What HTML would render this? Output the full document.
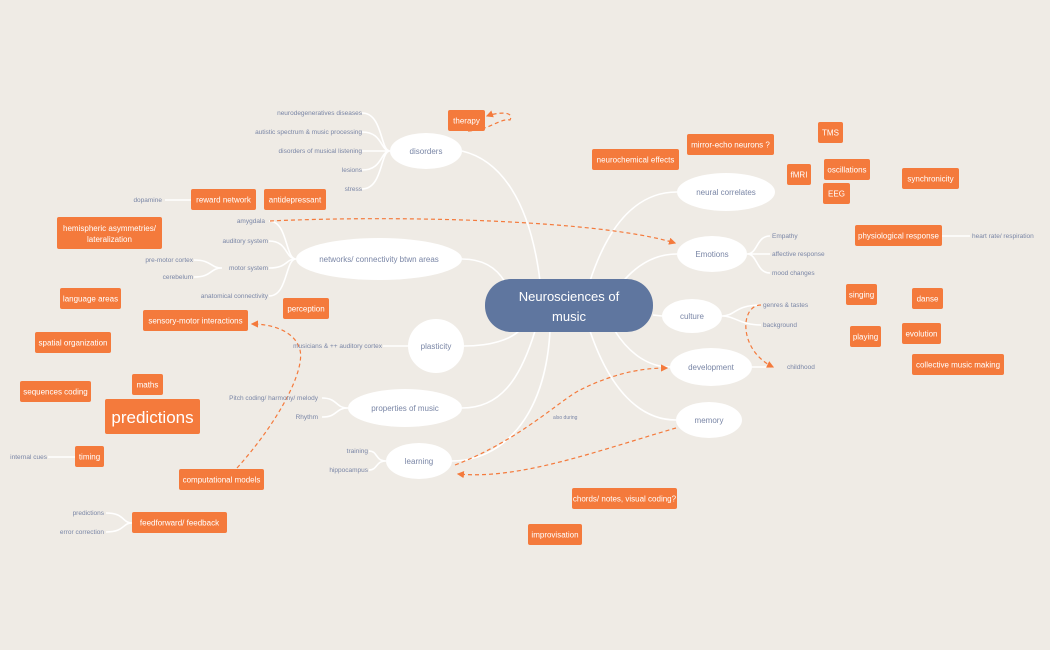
<!DOCTYPE html>
<html><head><meta charset="utf-8"><style>
body{margin:0;background:#efebe5;}
svg{display:block;font-family:"Liberation Sans",sans-serif;}
.o{fill:#f47a3c;}
.ot{fill:#fff;font-size:8px;text-anchor:middle;}
.l{fill:#7a86a6;font-size:6.5px;}
.e{fill:#fff;}
.et{fill:#7a86a6;font-size:8px;text-anchor:middle;}
.w{stroke:#fff;stroke-width:1.6;fill:none;}
.d{stroke:#f47a3c;stroke-width:1.2;stroke-dasharray:4 3;fill:none;}
</style></head><body>
<svg width="1050" height="650" viewBox="0 0 1050 650">
<defs><marker id="a" markerWidth="6" markerHeight="6" refX="5" refY="3" orient="auto"><path d="M0,0 L6,3 L0,6z" fill="#f47a3c"/></marker></defs>
<!-- main branches -->
<g class="w">
<path d="M540,281 C530,200 500,160 462,151"/>
<path d="M505,282 C495,265 480,259 462,259"/>
<path d="M520,330 C510,340 490,346 464,346"/>
<path d="M535,331 C520,380 500,408 462,408"/>
<path d="M550,331 C545,420 500,461 452,461"/>
<path d="M590,281 C610,220 640,192 677,192"/>
<path d="M620,285 C640,260 660,254 677,254"/>
<path d="M653,315 L662,316"/>
<path d="M615,331 C630,355 650,367 670,367"/>
<path d="M590,331 C610,390 640,420 676,420"/>
<!-- sub branches -->
<path d="M390,151 C380,151 383,113 362,113 M390,151 C380,151 383,132 362,132 M390,151 L362,151 M390,151 C380,151 383,170 362,170 M390,151 C380,151 383,189 362,189"/>
<path d="M191,200 L165,200"/>
<path d="M296,259 C285,259 288,221 269,221 M296,259 C285,259 288,241 269,241 M296,259 C285,259 288,268 269,268 M296,259 C285,259 288,296 269,296"/>
<path d="M222,268 C210,268 212,260 194,260 M222,268 C210,268 212,277 194,277"/>
<path d="M408,346 L383,346"/>
<path d="M348,408 C335,408 338,398 322,398 M348,408 C335,408 338,417 322,417"/>
<path d="M386,461 C375,461 378,451 369,451 M386,461 C375,461 378,470 369,470"/>
<path d="M75,457 L48,457"/>
<path d="M132,523 C122,523 125,513 106,513 M132,523 C122,523 125,532 106,532"/>
<path d="M747,254 C758,254 756,236 770,236 M747,254 L770,254 M747,254 C758,254 756,273 770,273"/>
<path d="M722,316 C735,316 735,305 761,305 M722,316 C735,316 740,325 761,325"/>
<path d="M752,367 L770,367"/>
<path d="M942,236 L970,236"/>
</g>
<!-- dashed -->
<path class="d" d="M468,131 C490,130 500,118 510,120 C515,110 495,113 487,116" marker-end="url(#a)"/>
<path class="d" d="M270,221 C400,215 600,220 675,243" marker-end="url(#a)"/>
<path class="d" d="M237,468 C280,420 305,370 300,350 C295,330 270,324 252,324" marker-end="url(#a)"/>
<path class="d" d="M676,428 C600,450 520,480 458,474" marker-end="url(#a)"/>
<path class="d" d="M455,465 C520,440 560,400 580,390 C620,370 650,368 667,368" marker-end="url(#a)"/>
<path class="d" d="M761,305 C740,305 738,350 773,367" marker-end="url(#a)"/>
<!-- center -->
<rect x="485" y="279" width="168" height="53" rx="26" fill="#5f769f"/>
<text x="569" y="301" fill="#fff" font-size="13" text-anchor="middle">Neurosciences of</text>
<text x="569" y="321" fill="#fff" font-size="13" text-anchor="middle">music</text>
<!-- ellipses -->
<g>
<ellipse class="e" cx="426" cy="151" rx="36" ry="18"/><text class="et" x="426" y="154">disorders</text>
<ellipse class="e" cx="379" cy="259" rx="83" ry="21"/><text class="et" x="379" y="262">networks/ connectivity btwn areas</text>
<ellipse class="e" cx="436" cy="346" rx="28" ry="27"/><text class="et" x="436" y="349">plasticity</text>
<ellipse class="e" cx="405" cy="408" rx="57" ry="19"/><text class="et" x="405" y="411">properties of music</text>
<ellipse class="e" cx="419" cy="461" rx="33" ry="18"/><text class="et" x="419" y="464">learning</text>
<ellipse class="e" cx="726" cy="192" rx="49" ry="19"/><text class="et" x="726" y="195">neural correlates</text>
<ellipse class="e" cx="712" cy="254" rx="35" ry="18"/><text class="et" x="712" y="257">Emotions</text>
<ellipse class="e" cx="692" cy="316" rx="30" ry="17"/><text class="et" x="692" y="319">culture</text>
<ellipse class="e" cx="711" cy="367" rx="41" ry="19"/><text class="et" x="711" y="370">development</text>
<ellipse class="e" cx="709" cy="420" rx="33" ry="18"/><text class="et" x="709" y="423">memory</text>
</g>
<!-- orange boxes -->
<g>
<rect class="o" x="448" y="110" width="37" height="21" rx="2"/><text class="ot" x="466.5" y="123.5">therapy</text>
<rect class="o" x="687" y="134" width="87" height="21" rx="2"/><text class="ot" x="730.5" y="147.5">mirror-echo neurons ?</text>
<rect class="o" x="592" y="149" width="87" height="21" rx="2"/><text class="ot" x="635.5" y="162.5">neurochemical effects</text>
<rect class="o" x="818" y="122" width="25" height="21" rx="2"/><text class="ot" x="830.5" y="135.5">TMS</text>
<rect class="o" x="787" y="164" width="24" height="21" rx="2"/><text class="ot" x="799" y="177.5">fMRI</text>
<rect class="o" x="824" y="159" width="46" height="21" rx="2"/><text class="ot" x="847" y="172.5">oscillations</text>
<rect class="o" x="823" y="183" width="27" height="21" rx="2"/><text class="ot" x="836.5" y="196.5">EEG</text>
<rect class="o" x="902" y="168" width="57" height="21" rx="2"/><text class="ot" x="930.5" y="181.5">synchronicity</text>
<rect class="o" x="855" y="225" width="87" height="21" rx="2"/><text class="ot" x="898.5" y="238.5">physiological response</text>
<rect class="o" x="191" y="189" width="65" height="21" rx="2"/><text class="ot" x="223.5" y="202.5">reward network</text>
<rect class="o" x="264" y="189" width="62" height="21" rx="2"/><text class="ot" x="295" y="202.5">antidepressant</text>
<rect class="o" x="57" y="217" width="105" height="32" rx="2"/><text class="ot" x="109.5" y="231">hemispheric asymmetries/</text><text class="ot" x="109.5" y="242">lateralization</text>
<rect class="o" x="60" y="288" width="61" height="21" rx="2"/><text class="ot" x="90.5" y="301.5">language areas</text>
<rect class="o" x="283" y="298" width="46" height="21" rx="2"/><text class="ot" x="306" y="311.5">perception</text>
<rect class="o" x="143" y="310" width="105" height="21" rx="2"/><text class="ot" x="195.5" y="323.5">sensory-motor interactions</text>
<rect class="o" x="35" y="332" width="76" height="21" rx="2"/><text class="ot" x="73" y="345.5">spatial organization</text>
<rect class="o" x="20" y="381" width="71" height="21" rx="2"/><text class="ot" x="55.5" y="394.5">sequences coding</text>
<rect class="o" x="132" y="374" width="31" height="21" rx="2"/><text class="ot" x="147.5" y="387.5">maths</text>
<rect class="o" x="105" y="399" width="95" height="35" rx="2"/><text class="ot" x="152.5" y="423" style="font-size:17px">predictions</text>
<rect class="o" x="75" y="446" width="29" height="21" rx="2"/><text class="ot" x="89.5" y="459.5">timing</text>
<rect class="o" x="179" y="469" width="85" height="21" rx="2"/><text class="ot" x="221.5" y="482.5">computational models</text>
<rect class="o" x="132" y="512" width="95" height="21" rx="2"/><text class="ot" x="179.5" y="525.5">feedforward/ feedback</text>
<rect class="o" x="846" y="284" width="31" height="21" rx="2"/><text class="ot" x="861.5" y="297.5">singing</text>
<rect class="o" x="912" y="288" width="31" height="21" rx="2"/><text class="ot" x="927.5" y="301.5">danse</text>
<rect class="o" x="850" y="326" width="31" height="21" rx="2"/><text class="ot" x="865.5" y="339.5">playing</text>
<rect class="o" x="902" y="323" width="39" height="21" rx="2"/><text class="ot" x="921.5" y="336.5">evolution</text>
<rect class="o" x="912" y="354" width="92" height="21" rx="2"/><text class="ot" x="958" y="367.5">collective music making</text>
<rect class="o" x="572" y="488" width="105" height="21" rx="2"/><text class="ot" x="624.5" y="501.5">chords/ notes, visual coding?</text>
<rect class="o" x="528" y="524" width="54" height="21" rx="2"/><text class="ot" x="555" y="537.5">improvisation</text>
</g>
<!-- labels -->
<g class="l" text-anchor="end">
<text x="362" y="115">neurodegeneratives diseases</text>
<text x="362" y="134">autistic spectrum &amp; music processing</text>
<text x="362" y="153">disorders of musical listening</text>
<text x="362" y="172">lesions</text>
<text x="362" y="191">stress</text>
<text x="162" y="202">dopamine</text>
<text x="265" y="223">amygdala</text>
<text x="268" y="243">auditory system</text>
<text x="268" y="270">motor system</text>
<text x="268" y="298">anatomical connectivity</text>
<text x="193" y="262">pre-motor cortex</text>
<text x="193" y="279">cerebelum</text>
<text x="382" y="348">musicians &amp; ++ auditory cortex</text>
<text x="318" y="400">Pitch coding/ harmony/ melody</text>
<text x="318" y="419">Rhythm</text>
<text x="368" y="453">training</text>
<text x="368" y="472">hippocampus</text>
<text x="47" y="459">internal cues</text>
<text x="104" y="515">predictions</text>
<text x="104" y="534">error correction</text>
</g>
<g class="l">
<text x="772" y="238">Empathy</text>
<text x="772" y="256">affective response</text>
<text x="772" y="275">mood changes</text>
<text x="763" y="307">genres &amp; tastes</text>
<text x="763" y="327">background</text>
<text x="787" y="369">childhood</text>
<text x="972" y="238">heart rate/ respiration</text>
<text x="553" y="419" style="font-size:5px">also during</text>
</g>
</svg>
</body></html>
